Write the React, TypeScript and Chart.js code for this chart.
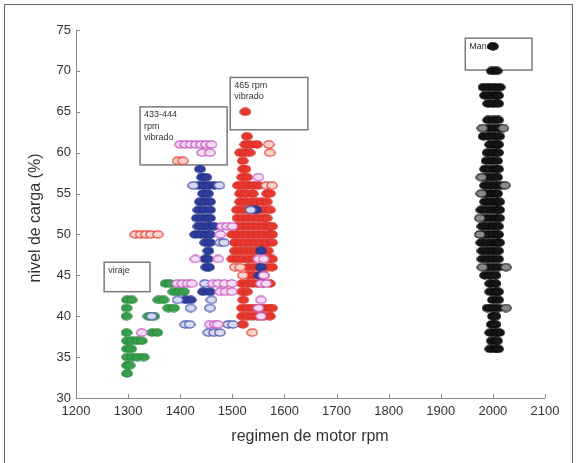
import { useEffect, useRef } from "react";
import { Chart, registerables } from "chart.js";

Chart.register(...registerables);

const xTickValues = [1200, 1300, 1400, 1500, 1600, 1700, 1800, 1900, 2000, 2100];
const yTickValues = [30, 35, 40, 45, 50, 55, 60, 65, 70, 75];
const xTitle = "regimen de motor rpm";
const yTitle = "nivel de carga (%)";

type Row = [number, number[]];

const greenFilled: Row[] = [
  [44, [1372, 1380]],
  [43, [1387, 1397, 1407]],
  [42, [1298, 1307, 1358, 1368]],
  [41, [1297, 1377, 1388]],
  [40, [1297, 1339, 1350]],
  [38, [1297, 1346, 1356]],
  [37, [1298, 1307, 1317, 1326]],
  [36, [1298, 1306]],
  [35, [1298, 1308, 1318, 1330]],
  [34, [1298, 1303]],
  [33, [1298]],
];

const blueFilled: Row[] = [
  [58, [1438]],
  [57, [1442, 1450]],
  [56, [1435, 1445, 1455, 1465]],
  [55, [1444, 1453]],
  [54, [1438, 1447, 1457]],
  [53, [1435, 1445, 1457, 1545]],
  [52, [1432, 1442, 1452, 1457]],
  [51, [1435, 1445, 1455, 1465]],
  [50, [1429, 1439, 1449, 1457]],
  [49, [1448, 1457]],
  [48, [1454, 1555]],
  [47, [1448, 1453]],
  [46, [1450, 1455, 1555]],
  [45, [1552]],
  [43, [1444, 1457]],
  [42, [1410, 1420]],
];

const blueOpen: Row[] = [
  [56, [1425, 1475]],
  [53, [1535]],
  [49, [1477, 1484]],
  [44, [1447]],
  [42, [1395, 1460]],
  [41, [1420, 1457]],
  [40, [1345]],
  [39, [1410, 1418, 1492, 1501]],
  [38, [1454, 1465, 1476]],
];

const redFilled: Row[] = [
  [65, [1525]],
  [62, [1528]],
  [61, [1525, 1535, 1547]],
  [60, [1515, 1525, 1533]],
  [59, [1520]],
  [58, [1521, 1525]],
  [57, [1519, 1528]],
  [56, [1511, 1520, 1530, 1540, 1550]],
  [55, [1515, 1525, 1539, 1567, 1572]],
  [54, [1515, 1525, 1535, 1545, 1556, 1566]],
  [53, [1509, 1519, 1529, 1539, 1549, 1561, 1572]],
  [52, [1510, 1520, 1530, 1540, 1550, 1560, 1566]],
  [51, [1510, 1520, 1530, 1540, 1550, 1560, 1570, 1576]],
  [50, [1500, 1510, 1520, 1530, 1540, 1550, 1560, 1570, 1576]],
  [49, [1505, 1515, 1525, 1535, 1545, 1555, 1565, 1576]],
  [48, [1505, 1515, 1525, 1535, 1545, 1560, 1568]],
  [47, [1500, 1510, 1520, 1530, 1540, 1570, 1576]],
  [46, [1530, 1540, 1550, 1566, 1576]],
  [45, [1530, 1540, 1560]],
  [44, [1519, 1529, 1539, 1549, 1559, 1572]],
  [43, [1519, 1528]],
  [42, [1521]],
  [41, [1519, 1529, 1539, 1549, 1560, 1570, 1576]],
  [40, [1519, 1529, 1539, 1549, 1560, 1572]],
  [39, [1520]],
];

const redOpen: Row[] = [
  [61, [1570]],
  [60, [1572]],
  [59, [1395, 1405]],
  [56, [1565, 1576]],
  [50, [1314, 1324, 1334, 1344, 1357]],
  [46, [1505, 1515]],
  [45, [1520]],
  [38, [1538]],
];

const pinkOpen: Row[] = [
  [61, [1400, 1410, 1420, 1430, 1440, 1450, 1460]],
  [60, [1442, 1457]],
  [57, [1550]],
  [51, [1480, 1490, 1500]],
  [50, [1477]],
  [47, [1429, 1473, 1550, 1560]],
  [45, [1560]],
  [44, [1394, 1404, 1414, 1422, 1463, 1473, 1485, 1499, 1555, 1565]],
  [43, [1477, 1487, 1499]],
  [42, [1555]],
  [41, [1550]],
  [40, [1555]],
  [39, [1457, 1467, 1472]],
  [38, [1326]],
];

const blackFilled: Row[] = [
  [73, [2000]],
  [70, [1998, 2007]],
  [68, [1982, 1992, 2002, 2013]],
  [67, [1985, 1995, 2005, 2010]],
  [66, [1991, 2001, 2010]],
  [64, [1991, 2001, 2010]],
  [63, [1992, 2002, 2012]],
  [62, [1982, 1992, 2002, 2012]],
  [61, [1995, 2005, 2010]],
  [60, [1990, 2000, 2010]],
  [59, [1988, 1998, 2008]],
  [58, [1985, 1995, 2005, 2010]],
  [57, [1988, 1998, 2008]],
  [56, [1985, 1995, 2005, 2015]],
  [55, [1988, 1998, 2008]],
  [54, [1985, 1995, 2005, 2012]],
  [53, [1978, 1988, 1998, 2008, 2012]],
  [52, [1985, 1995, 2005, 2012]],
  [51, [1980, 1990, 2000, 2010]],
  [50, [1982, 1992, 2002, 2010]],
  [49, [1978, 1988, 1998, 2008, 2012]],
  [48, [1980, 1990, 2000, 2010]],
  [47, [1980, 1990, 2000, 2010]],
  [46, [1990, 2000, 2010]],
  [45, [1985, 1995, 2005]],
  [44, [1995, 2005]],
  [43, [1995, 2005, 2010]],
  [42, [2000, 2010]],
  [41, [1990, 2000, 2010]],
  [40, [2000, 2005]],
  [39, [1998, 2005]],
  [38, [1995, 2005, 2012]],
  [37, [1998, 2008]],
  [36, [1995, 2005, 2010]],
];

const blackOpen: Row[] = [
  [63, [1980, 2020]],
  [57, [1978]],
  [56, [2023]],
  [55, [1978]],
  [52, [1975]],
  [50, [1975]],
  [46, [1980, 2025]],
  [41, [2025]],
];

// annotation boxes: label lines, and [x1, x2, y1, y2] in data units
const annotationLabels: string[][] = [["433-444", "rpm", "vibrado"], ["465 rpm", "vibrado"], ["viraje"], ["Mand"]];
const annotationBoxes: number[][] = [
  [1323, 1490, 65.6, 58.5],
  [1496, 1645, 69.2, 62.8],
  [1254, 1342, 46.6, 43.0],
  [1947, 2075, 74.0, 70.1],
];

const toPoints = (rows: Row[]) => rows.flatMap(([y, xs]) => xs.map((x) => ({ x, y })));

function makeMarker(fill: string, stroke: string) {
  const c = document.createElement("canvas");
  c.width = 12;
  c.height = 9;
  const ctx = c.getContext("2d")!;
  ctx.beginPath();
  ctx.ellipse(6, 4.5, 5.2, 3.6, 0, 0, Math.PI * 2);
  ctx.fillStyle = fill;
  ctx.fill();
  ctx.lineWidth = 1.2;
  ctx.strokeStyle = stroke;
  ctx.stroke();
  return c;
}

const FONT = "'Liberation Sans', Arial, sans-serif";

export default function App() {
  const ref = useRef<HTMLCanvasElement>(null);
  useEffect(() => {
    const canvas = ref.current!;
    const decor = {
      id: "decor",
      beforeDraw(chart: any) {
        const ctx = chart.ctx;
        ctx.save();
        ctx.fillStyle = "#fff";
        ctx.fillRect(0, 0, chart.width, chart.height);
        ctx.strokeStyle = "#666";
        ctx.lineWidth = 1;
        ctx.strokeRect(4.5, 4.5, 568, 480);
        ctx.restore();
      },
      beforeDatasetsDraw(chart: any) {
        const ctx = chart.ctx;
        const xs = chart.scales.x;
        const ys = chart.scales.y;
        const a = chart.chartArea;
        ctx.save();
        ctx.strokeStyle = "#8a8a8a";
        ctx.lineWidth = 1;
        ctx.beginPath();
        ctx.moveTo(Math.round(a.left) + 0.5, a.top);
        ctx.lineTo(Math.round(a.left) + 0.5, Math.round(a.bottom) + 0.5);
        ctx.lineTo(a.right, Math.round(a.bottom) + 0.5);
        xTickValues.forEach((v) => {
          const px = Math.round(xs.getPixelForValue(v)) + 0.5;
          ctx.moveTo(px, a.bottom);
          ctx.lineTo(px, a.bottom - 4);
        });
        yTickValues.forEach((v) => {
          const py = Math.round(ys.getPixelForValue(v)) + 0.5;
          ctx.moveTo(a.left, py);
          ctx.lineTo(a.left + 4, py);
        });
        ctx.stroke();
        // annotation boxes
        ctx.strokeStyle = "#7a7a7a";
        ctx.lineWidth = 1.5;
        ctx.fillStyle = "#333";
        ctx.font = `9px ${FONT}`;
        ctx.textBaseline = "middle";
        annotationBoxes.forEach((b, i) => {
          const x1 = xs.getPixelForValue(b[0]);
          const x2 = xs.getPixelForValue(b[1]);
          const y1 = ys.getPixelForValue(b[2]);
          const y2 = ys.getPixelForValue(b[3]);
          ctx.strokeRect(x1, y1, x2 - x1, y2 - y1);
          annotationLabels[i].forEach((t, j) => {
            ctx.fillText(t, x1 + 4, y1 + 8 + j * 11.5);
          });
        });
        // axis titles
        ctx.fillStyle = "#333";
        ctx.font = `16px ${FONT}`;
        ctx.textAlign = "center";
        ctx.fillText(xTitle, 310, 437);
        ctx.translate(36, 218);
        ctx.rotate(-Math.PI / 2);
        ctx.fillText(yTitle, 0, 0);
        ctx.restore();
      },
    };

    const ds = (label: string, rows: Row[], fill: string, stroke: string, order: number) => ({
      label,
      data: toPoints(rows),
      pointStyle: makeMarker(fill, stroke),
      pointRadius: 4,
      order,
    });

    const chart = new Chart(canvas, {
      type: "scatter",
      data: {
        datasets: [
          ds("viraje", greenFilled, "#38a04c", "#2f8c42", 9),
          ds("433-444 rpm", blueFilled, "#2e3d9c", "#26338a", 6),
          ds("433-444 rpm (o)", blueOpen, "#d9daf1", "#4a56b2", 4),
          ds("465 rpm", redFilled, "#e8382e", "#d92f28", 7),
          ds("465 rpm (o)", redOpen, "#f8d4cd", "#e2463b", 5),
          ds("vibrado (o)", pinkOpen, "#f4dcf1", "#c75bc4", 3),
          ds("Mand", blackFilled, "#151515", "#0c0c0c", 2),
          ds("Mand (o)", blackOpen, "#8a8a8a", "#222", 1),
        ] as any,
      },
      options: {
        animation: false,
        responsive: false,
        devicePixelRatio: 1,
        events: [],
        layout: { padding: { top: 30, right: 32, left: 0, bottom: 0 } },
        plugins: { legend: { display: false }, tooltip: { enabled: false } },
        scales: {
          x: {
            type: "linear",
            min: 1200,
            max: 2100,
            afterBuildTicks: (s: any) => {
              s.ticks = xTickValues.map((v) => ({ value: v }));
            },
            afterFit: (s: any) => {
              s.height = 65;
            },
            grid: { display: false, drawTicks: false },
            border: { display: false },
            ticks: {
              color: "#333",
              font: { size: 13, family: FONT },
              padding: 6,
              maxRotation: 0,
              callback: (v: any) => String(v),
            },
          },
          y: {
            type: "linear",
            min: 30,
            max: 75,
            afterBuildTicks: (s: any) => {
              s.ticks = yTickValues.map((v) => ({ value: v }));
            },
            afterFit: (s: any) => {
              s.width = 76;
            },
            grid: { display: false, drawTicks: false },
            border: { display: false },
            ticks: { color: "#333", font: { size: 13, family: FONT }, padding: 5, callback: (v: any) => String(v) },
          },
        },
      } as any,
      plugins: [decor],
    });
    return () => chart.destroy();
  }, []);

  return (
    <div style={{ position: "fixed", left: 0, top: 0, width: 577, height: 463, background: "#fff" }}>
      <canvas ref={ref} width={577} height={463} style={{ width: 577, height: 463, display: "block" }} />
    </div>
  );
}
